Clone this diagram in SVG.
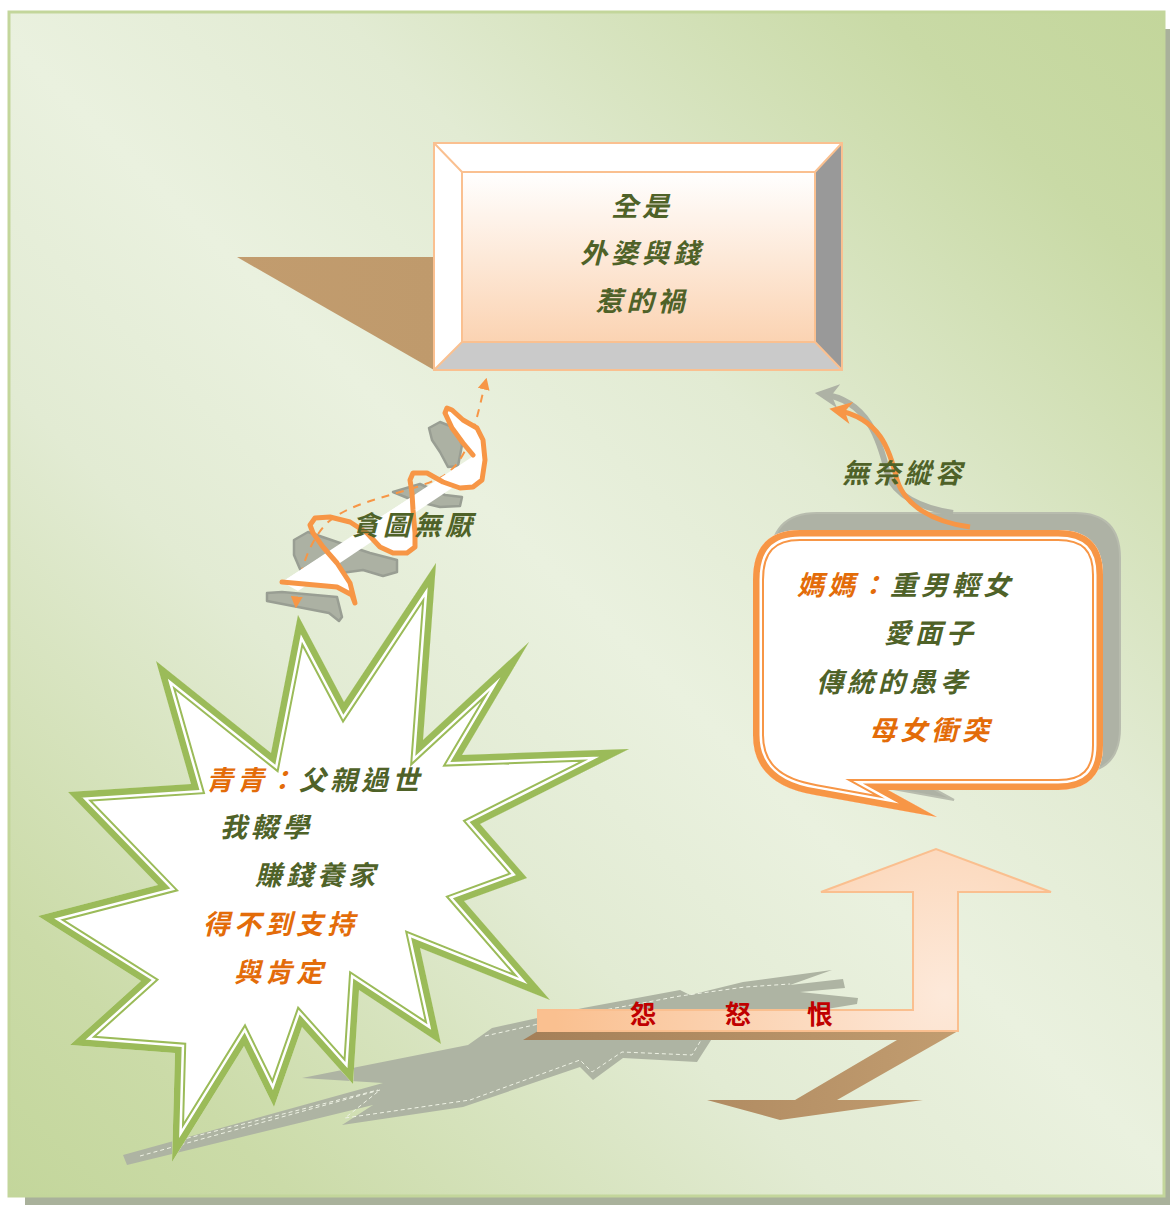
<svg xmlns="http://www.w3.org/2000/svg" xmlns:xlink="http://www.w3.org/1999/xlink" width="1170" height="1205" viewBox="0 0 1170 1205">
<defs>
<style>
.t{font-family:'Noto Sans CJK TC','Noto Sans CJK SC',sans-serif;font-size:27px;font-style:italic;font-weight:700;letter-spacing:4px}
.g{fill:#4f6228}.o{fill:#e36c09}
.r{font-family:'Noto Sans CJK TC','Noto Sans CJK SC',sans-serif;font-size:26px;font-weight:700;fill:#c00000;text-anchor:middle}
.gb{fill:#acb1a3;stroke:#999e93;stroke-width:2.5;stroke-linejoin:round}
</style>
<linearGradient id="bg" gradientUnits="userSpaceOnUse" x1="1165" y1="12" x2="9" y2="1197">
<stop offset="0" stop-color="#c3d69b"/><stop offset="0.12" stop-color="#c9daa6"/><stop offset="0.35" stop-color="#e2ebd3"/><stop offset="0.5" stop-color="#eaf1df"/><stop offset="0.65" stop-color="#e2ebd3"/><stop offset="0.88" stop-color="#cbdba8"/><stop offset="1" stop-color="#c3d69b"/>
</linearGradient>
<linearGradient id="face" x1="0" y1="0" x2="0" y2="1"><stop offset="0" stop-color="#ffffff"/><stop offset="1" stop-color="#fbd3b2"/></linearGradient>
<linearGradient id="brown" x1="0" y1="0" x2="1" y2="0"><stop offset="0" stop-color="#c29c6e"/><stop offset="1" stop-color="#bf9a6c"/></linearGradient>
<linearGradient id="bshadow" gradientUnits="userSpaceOnUse" x1="523" y1="0" x2="958" y2="0"><stop offset="0" stop-color="#a47f58"/><stop offset="1" stop-color="#c29d70"/></linearGradient>
<radialGradient id="arrowg" gradientUnits="userSpaceOnUse" cx="945" cy="995" r="390"><stop offset="0" stop-color="#fde9da"/><stop offset="1" stop-color="#fac090"/></radialGradient>
<marker id="ahO" viewBox="0 0 10 10" refX="8" refY="5" markerWidth="6" markerHeight="6" orient="auto-start-reverse"><path d="M0,0 L10,5 L0,10 z" fill="#f79646"/></marker>
<marker id="ahC" viewBox="0 0 10 10" refX="7" refY="5" markerWidth="4.5" markerHeight="4.5" orient="auto"><path d="M0,0 L10,5 L0,10 L3,5 z" fill="#f79646"/></marker>
<marker id="ahG" viewBox="0 0 10 10" refX="7" refY="5" markerWidth="4" markerHeight="4" orient="auto"><path d="M0,0 L10,5 L0,10 L3,5 z" fill="#aeb2a5"/></marker>
<polygon id="star" points="436,563 423,740 529,642 462,755 629,749 480,824 527,878 464,901 550,1000 420,948 441,1044 359,990 353,1084 302,1027 274,1107 244,1046 172,1162 175,1053 70,1045 141,981 38,916 158,885 68,792 191,784 156,661 271,753 298,615 344,702"/>
<path id="bub" d="M800,530 H1058 Q1103,530 1103,575 V745 Q1103,790 1058,790 H888 L937,817 L815,795 Q753,785 753,735 V580 Q753,530 800,530 Z"/>
<clipPath id="starClip"><use href="#star"/></clipPath>
<clipPath id="bubClip"><use href="#bub"/></clipPath>
</defs>

<g id="background">
<rect x="25" y="29" width="1145" height="1176" fill="#a9b19b"/>
<rect x="9" y="12" width="1155" height="1184" fill="url(#bg)" stroke="#c3d69b" stroke-width="3"/>
</g>

<g id="lightning">
<polygon fill="#aeb4a3" points="123,1155 383,1083 302,1078 468,1045 492,1028 583,1008 680,990 690,995 743,982 832,970 790,985 843,979 845,988 800,992 858,998 857,1004 760,1020 713,1037 697,1062 623,1058 593,1080 580,1067 463,1107 342,1125 373,1105 127,1165"/>
<g fill="none" stroke="#eef2e4" stroke-width="1" stroke-dasharray="4,3">
<polyline points="140,1156 380,1090 345,1118 470,1100 580,1060 592,1072 622,1052 692,1055 706,1032"/>
<polyline points="180,1140 378,1090"/>
<polyline points="485,1036 583,1014 680,996 745,987 790,984"/>
</g>
</g>

<g id="node-top">
<polygon points="237,257 434,257 434,370" fill="url(#brown)"/>
<rect x="434" y="143" width="408" height="227" fill="#ffffff"/>
<polygon points="842,143 842,370 815,342 815,172" fill="#999999"/>
<polygon points="434,370 462,342 815,342 842,370" fill="#cacaca"/>
<rect x="462" y="172" width="353" height="170" fill="url(#face)"/>
<g fill="none" stroke="#fac090" stroke-width="2">
<rect x="434" y="143" width="408" height="227"/>
<rect x="462" y="172" width="353" height="170"/>
<path d="M434,143 L462,172 M842,143 L815,172 M842,370 L815,342 M434,370 L462,342"/>
</g>
<text class="t g" x="642" y="216" text-anchor="middle">全是</text>
<text class="t g" x="642" y="263" text-anchor="middle">外婆與錢</text>
<text class="t g" x="642" y="311" text-anchor="middle">惹的禍</text>
</g>

<g id="node-starburst">
<use href="#star" fill="#ffffff"/>
<g clip-path="url(#starClip)" fill="none" stroke-linejoin="miter" stroke-miterlimit="10">
<use href="#star" stroke="#9bbb59" stroke-width="22"/>
<use href="#star" stroke="#ffffff" stroke-width="18"/>
<use href="#star" stroke="#9bbb59" stroke-width="13"/>
</g>
<text class="t" x="206" y="790"><tspan class="o">青青：</tspan><tspan class="g">父親過世</tspan></text>
<text class="t g" x="220" y="837">我輟學</text>
<text class="t g" x="255" y="885">賺錢養家</text>
<text class="t o" x="203" y="934">得不到支持</text>
<text class="t o" x="234" y="982">與肯定</text>
</g>

<g id="node-bubble">
<use href="#bub" transform="translate(17,-17)" fill="#aeb2a5" stroke="#b8bcae" stroke-width="2"/>
<use href="#bub" fill="#ffffff"/>
<g clip-path="url(#bubClip)" fill="none" stroke-linejoin="miter" stroke-miterlimit="10">
<use href="#bub" stroke="#f79646" stroke-width="22"/>
<use href="#bub" stroke="#ffffff" stroke-width="18"/>
<use href="#bub" stroke="#f79646" stroke-width="13"/>
</g>
<text class="t" x="797" y="595"><tspan class="o">媽媽：</tspan><tspan class="g">重男輕女</tspan></text>
<text class="t g" x="884" y="643">愛面子</text>
<text class="t g" x="816" y="692">傳統的愚孝</text>
<text class="t o" x="869" y="740">母女衝突</text>
</g>

<g id="node-resentment">
<polygon points="538,1031 958,1031 837,1100 923,1100 780,1120 707,1100 795,1100 897,1040 523,1040" fill="url(#bshadow)"/>
<polygon points="538,1010 913,1010 913,892 821,892 936,849 1051,892 958,892 958,1031 538,1031" fill="url(#arrowg)" stroke="#fabf8f" stroke-width="2"/>
<text class="r" x="643" y="1024">怨</text>
<text class="r" x="738" y="1024">怒</text>
<text class="r" x="820" y="1024">恨</text>
</g>

<g id="connectors">
<g id="spiral">
<polygon class="gb" points="429,428 440,422 455,428 462,445 458,466 448,467 440,452 432,440"/>
<polygon class="gb" points="393,492 420,484 445,495 462,497 460,506 440,507 415,501"/>
<polygon class="gb" points="294,540 308,532 340,543 370,553 397,560 397,572 383,576 363,570 320,576 303,576 294,555"/>
<polygon class="gb" points="267,593 282,592 337,597 342,617 339,621 329,613 267,601"/>
<path d="M486,380 C476,420 470,462 440,478 C400,496 350,500 325,525 C305,548 298,580 296,606" fill="none" stroke="#f79646" stroke-width="2" stroke-dasharray="8,7" marker-start="url(#ahO)" marker-end="url(#ahO)"/>
<g fill="#ffffff">
<polygon points="282,582 475,455 482,468 298,591"/>
<polygon points="282,582 337,587 352,595 355,603 350,583 337,563 338,546"/>
<polygon points="360,530 367,533 380,547 393,553 407,553 415,547 415,533 413,510 412,497"/>
<polygon points="447,475 460,488 473,487 482,480 485,460 483,440 477,428 463,420 452,410 447,408 445,413 452,428 463,443 473,457"/>
</g>
<path d="M282,582 L337,587 L352,595 L355,603 L350,583 L337,563 L323,547 L313,533 L310,525 L315,518 L330,517 L350,522 L367,533 L380,547 L393,553 L407,553 L415,547 L415,533 L413,510 L412,493 L410,480 L413,473 L427,473 L443,482 L460,488 L473,487 L482,480 L485,460 L483,440 L477,428 L463,420 L452,410 L447,408 L445,413 L452,428 L463,443 L473,455" fill="none" stroke="#f79646" stroke-width="5" stroke-linejoin="round" stroke-linecap="round"/>
<text class="t g" x="352" y="535">貪圖無厭</text>
</g>
<g id="indulge">
<path d="M953,513 C920,508 895,495 888,475 C880,440 868,400 822,394" fill="none" stroke="#aeb2a5" stroke-width="6" marker-end="url(#ahG)"/>
<path d="M970,527 C932,522 905,505 897,480 C890,450 880,418 836,410" fill="none" stroke="#f79646" stroke-width="5" marker-end="url(#ahC)"/>
<text class="t g" x="842" y="483">無奈縱容</text>
</g>
</g>
</svg>
